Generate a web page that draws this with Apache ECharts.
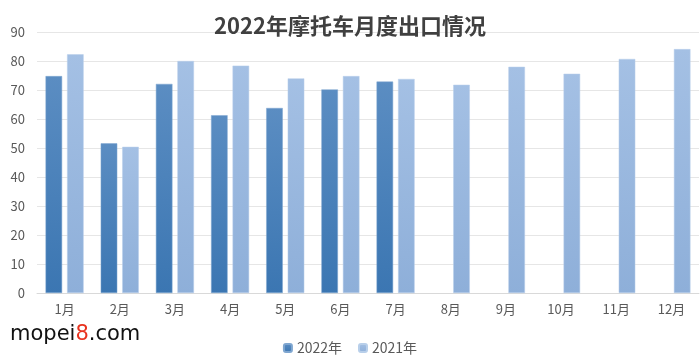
<!DOCTYPE html>
<html>
<head>
<meta charset="utf-8">
<script src="https://cdn.jsdelivr.net/npm/echarts@6/dist/echarts.min.js"></script>
<style>
html,body{margin:0;padding:0;background:#fff;}
#chart{width:700px;height:359px;}
</style>
</head>
<body>
<div id="chart"></div>
<script>
const categories = ['1月','2月','3月','4月','5月','6月','7月','8月','9月','10月','11月','12月'];
const values2022 = [74.8, 51.6, 72.1, 61.3, 63.8, 70.2, 72.9, null, null, null, null, null];
const values2021 = [82.3, 50.4, 80.0, 78.4, 74.0, 74.8, 73.8, 71.8, 78.0, 75.6, 80.7, 84.1];
const yTicks = [0, 10, 20, 30, 40, 50, 60, 70, 80, 90];

const font = '"Noto Sans CJK SC", "Noto Sans", sans-serif';
const chart = echarts.init(document.getElementById('chart'));
chart.setOption({
  animation: false,
  backgroundColor: '#ffffff',
  title: {
    text: '2022年摩托车月度出口情况',
    left: 'center',
    top: 10,
    textStyle: { fontFamily: font, fontSize: 22, fontWeight: 'bold', color: '#404040' }
  },
  legend: {
    bottom: -1,
    left: 'center',
    itemWidth: 8,
    itemHeight: 8,
    itemGap: 16,
    textStyle: { fontFamily: font, fontSize: 14, color: '#595959' },
    data: ['2022年', '2021年']
  },
  grid: { left: 37, right: 1, top: 32, bottom: 66, containLabel: false },
  xAxis: {
    type: 'category',
    data: categories,
    axisLine: { lineStyle: { color: '#d9d9d9' } },
    axisTick: { show: false },
    axisLabel: { color: '#595959', fontFamily: font, fontSize: 13, margin: 10 }
  },
  yAxis: {
    type: 'value',
    min: yTicks[0],
    max: yTicks[yTicks.length - 1],
    interval: 10,
    axisLine: { show: false },
    axisTick: { show: false },
    splitLine: { lineStyle: { color: '#e6e6e6' } },
    axisLabel: { color: '#595959', fontFamily: font, fontSize: 13, margin: 12 }
  },
  series: [
    {
      name: '2022年',
      type: 'bar',
      data: values2022,
      barWidth: '30%',
      barGap: '30%',
      itemStyle: {
        color: new echarts.graphic.LinearGradient(0, 0, 0, 1, [
          { offset: 0, color: '#5b8dc2' },
          { offset: 1, color: '#3b76b2' }
        ]),
        borderColor: '#7fa6d0',
        borderWidth: 0.5
      }
    },
    {
      name: '2021年',
      type: 'bar',
      data: values2021,
      barWidth: '30%',
      itemStyle: {
        color: new echarts.graphic.LinearGradient(0, 0, 0, 1, [
          { offset: 0, color: '#a4c0e4' },
          { offset: 1, color: '#8eafd9' }
        ]),
        borderColor: '#b8cfea',
        borderWidth: 0.5
      }
    }
  ],
  graphic: [
    {
      type: 'text',
      left: 10,
      top: 324,
      style: {
        rich: {
          a: { fontFamily: '"DejaVu Sans", sans-serif', fontSize: 21, fill: '#111111' },
          b: { fontFamily: '"DejaVu Sans", sans-serif', fontSize: 21, fill: '#e8321e' }
        },
        text: '{a|mopei}{b|8}{a|.com}'
      }
    }
  ]
});
</script>
</body>
</html>
